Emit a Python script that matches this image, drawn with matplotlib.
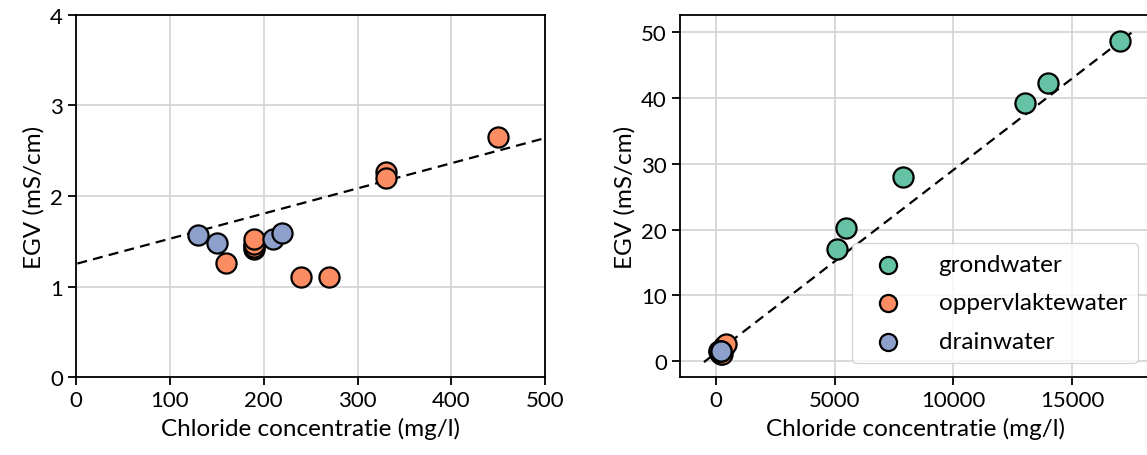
import numpy as np
import matplotlib.pyplot as plt

plt.rcParams['font.family'] = ['Lato', 'DejaVu Sans']

# grondwater (alleen rechts)
gw_cl = [5100, 5500, 7900, 13000, 14000, 17000]
gw_egv = [17.1, 20.3, 28.0, 39.3, 42.3, 48.6]

# oppervlaktewater
ow_cl = [160, 190, 190, 190, 190, 240, 270, 330, 330, 450]
ow_egv = [1.26, 1.41, 1.44, 1.47, 1.52, 1.11, 1.10, 2.27, 2.20, 2.65]

# drainwater
dw_cl = [130, 150, 210, 220]
dw_egv = [1.57, 1.48, 1.52, 1.59]

# fitlijn EGV = a + b * Cl
fit_a = 1.25
fit_b = 0.00278
fit_range = [-500, 17500]

colors = {'grondwater': '#66c2a5', 'oppervlaktewater': '#fc8d62', 'drainwater': '#8da0cb'}

fig = plt.figure(figsize=(11.47, 4.56), dpi=100)
ax1 = fig.add_axes([0.0663, 0.171, 0.409, 0.794])
ax2 = fig.add_axes([0.593, 0.171, 0.41, 0.794])

def scat(ax, x, y, name):
    ax.scatter(x, y, s=210, c=colors[name], edgecolors='black', linewidths=1.6,
               label=name, zorder=3)

for ax in (ax1, ax2):
    xl = np.array(fit_range)
    ax.plot(xl, fit_a + fit_b * xl, color='black', lw=1.6, dashes=(4.5, 2.8), zorder=2)
    ax.grid(True, color='#d3d3d3', lw=1.2, zorder=0)
    ax.set_axisbelow(True)
    ax.set_xlabel('Chloride concentratie (mg/l)', fontsize=17.5, labelpad=5)
    ax.set_ylabel('EGV (mS/cm)', fontsize=17.5)
    ax.tick_params(labelsize=16, length=6, width=1.3)
    for s in ax.spines.values():
        s.set_linewidth(1.3)

scat(ax2, gw_cl, gw_egv, 'grondwater')
for ax in (ax1, ax2):
    scat(ax, ow_cl, ow_egv, 'oppervlaktewater')
    scat(ax, dw_cl, dw_egv, 'drainwater')

ax1.set_xlim(0, 500)
ax1.set_ylim(0, 4)
ax1.set_yticks([0, 1, 2, 3, 4])

ax2.set_xlim(-1500, 18300)
ax2.set_ylim(-2.4, 52.6)
ax2.set_xticks([0, 5000, 10000, 15000])

ax2.legend(loc='lower right', fontsize=17.5, labelspacing=0.72, handletextpad=1.1,
           borderpad=0.45, markerscale=0.85, borderaxespad=0,
           bbox_to_anchor=(0.973, 0.039), framealpha=0.8)

fig.savefig('out.png', dpi=100)
